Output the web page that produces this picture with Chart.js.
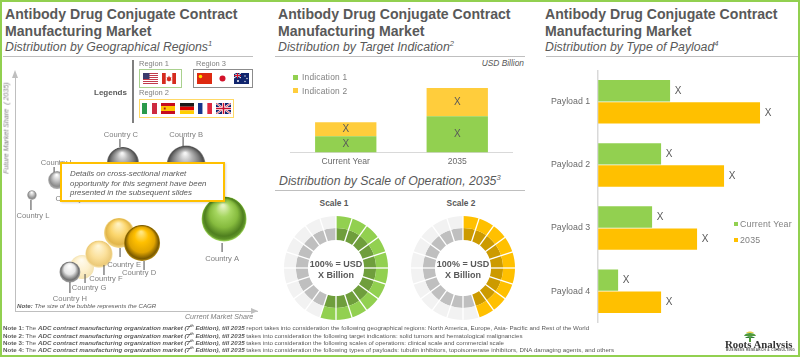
<!DOCTYPE html>
<html><head><meta charset="utf-8">
<script src="https://cdn.jsdelivr.net/npm/chart.js@4"></script>
<style>
html,body{margin:0;padding:0;background:#fff}
#stage{position:relative;width:800px;height:357px;overflow:hidden;background:#fff;font-family:"Liberation Sans",Arial,sans-serif;color:#595959}
#frame{position:absolute;inset:0;border:2px solid #92d050;box-sizing:border-box;z-index:20;pointer-events:none}
.t{position:absolute;white-space:nowrap;line-height:1;transform:translateY(-50%);z-index:6}
.title{font-weight:bold;font-size:14.1px}
.sub{font-style:italic;font-size:12.3px}
.sub sup{font-size:7.5px;line-height:0;vertical-align:5px}
.rule{position:absolute;height:1px;background:#bfbfbf;z-index:2}
canvas{position:absolute;display:block}
.box{position:absolute;box-sizing:border-box;z-index:3}
.flag{position:absolute;z-index:4}
#callout{position:absolute;left:60px;top:162px;width:165px;height:40px;box-sizing:border-box;border:2px solid #ffc000;background:#fff;z-index:8;box-shadow:1px 1px 2px rgba(0,0,0,.15);padding:5px 0 0 8px;font-style:italic;font-size:7.9px;line-height:9.6px;color:#595959;white-space:nowrap}
.note{font-size:6.2px;color:#595959}
.note b{font-weight:bold}
.sq{position:absolute;width:5px;height:5px;z-index:6}
</style></head><body>
<div id="stage">
<div id="frame"></div>

<canvas id="bubble" width="270" height="262" style="left:0;top:60px;width:270px;height:262px;z-index:1"></canvas>
<canvas id="stack" width="223" height="100" style="left:290px;top:72px;width:223px;height:100px;z-index:1"></canvas>
<canvas id="donut1" width="104" height="104" style="left:284px;top:216px;width:104px;height:104px;z-index:1"></canvas>
<canvas id="donut2" width="104" height="104" style="left:411px;top:216px;width:104px;height:104px;z-index:1"></canvas>
<canvas id="payload" width="257" height="279" style="left:543px;top:57px;width:257px;height:279px;z-index:1"></canvas>
<div id="callout">Details on cross-sectional market<br>opportunity for this segment have been<br>presented in the subsequent slides</div>
</div>

<script>
// ---------- data ----------
const mainTitle = ["Antibody Drug Conjugate Contract", "Manufacturing Market"];
const countryNames  = ["Country A","Country B","Country C","Country I","Country J","Country L","Country G","Country F","Country E","Country D","Country H"];
const marketShare   = [86.4,70.7,44.6,17.4,23.5,7,27.7,34.7,43,52.5,22.7];
const futureShare   = [38.7,61.3,62.2,55,53.2,48.7,18.5,23.9,32.8,28.6,16.4];
const cagrBubble    = [22.5,19.5,16,9,7,4.8,12,13.7,15,18,10.5];
const indicationCategories = ["Current Year","2035"];
const indication1 = [1.6,3.6];
const indication2 = [1.4,2.8];
const scale1Outer = [5,5,5,5,5,5,5,5,5,5,5,5,5,5,5,5,5,5,5,5];
const scale1Inner = [5,5,5,5,5,5,5,5,5,5,5,5,5,5,5,5,5,5,5,5];
const scale2Outer = [5,5,5,5,5,5,5,5,5,5,5,5,5,5,5,5,5,5,5,5];
const scale2Inner = [5,5,5,5,5,5,5,5,5,5,5,5,5,5,5,5,5,5,5,5];
const scale1Filled = 11;
const scale2Filled = 9;
const payloadCategories = ["Payload 1","Payload 2","Payload 3","Payload 4"];
const payloadCurrent = [72,63,54,20];
const payload2035    = [162,126,99,63];

// ---------- styling and placement (not data) ----------
const GREEN="#92d050", AMBER="#ffc000", YEL="#ffcd3c", TXT="#595959";
const sphereStops = {
  green:[[0,"#e4f3c0"],[.3,"#a5d65f"],[.6,"#86bb3e"],[.85,"#4f7f1f"],[.94,"#5f9428"],[1,"#a6dd62"]],
  grayD:[[0,"#f4f4f4"],[.3,"#b5b5b5"],[.65,"#7d7d7d"],[.9,"#4e4e4e"],[1,"#8d8d8d"]],
  grayL:[[0,"#ffffff"],[.4,"#c9c9c9"],[.8,"#8a8a8a"],[1,"#b5b5b5"]],
  white:[[0,"#ffffff"],[.5,"#e6e6e6"],[.85,"#6f6f6f"],[1,"#a5a5a5"]],
  gold:[[0,"#ffe680"],[.35,"#ffc000"],[.7,"#e0a400"],[.92,"#7a5a00"],[1,"#b48a10"]],
  pale1:[[0,"#fff2c2"],[.5,"#fbd56b"],[.85,"#e2b64a"],[1,"#f4d98a"]],
  pale2:[[0,"#fff6d6"],[.55,"#fbe09a"],[.9,"#ecca78"],[1,"#f7e6b4"]],
  pale3:[[0,"#fffbee"],[.6,"#fdf0cc"],[1,"#f3e2b0"]]
};
const bubbleStyle = ["green","grayD","grayD","grayL","grayL","grayL","pale3","pale2","pale1","gold","white"];
// leader line dx, y1, y2 and label dx, dy, all relative to the bubble centre
const bubbleLead = [
 [-2,24,33,-2,40],[-3,-19,-28,0,-30.5],[-3,-16,-24,-2,-28.5],[-3,-8,-13,-1,-17],[0,0,0,0,14.5],
 [-1,5,15,1,21],[3,7,16,7,21],[5,11,21,7,25],[1,15,24,5,32],[2,18,27,-3,30],[0,10,21,0,27]
];

const stage=document.getElementById("stage");
function T(x,y,html,css,cls){const d=document.createElement("div");d.className="t "+(cls||"");d.style.left=x+"px";d.style.top=y+"px";
  if(css)d.style.cssText+=";"+css;d.innerHTML=html;stage.appendChild(d);return d;}
function rule(x,y,w){const d=document.createElement("div");d.className="rule";d.style.cssText=`left:${x}px;top:${y}px;width:${w}px`;stage.appendChild(d);}
function frameBox(x,y,w,h,col,bw){const d=document.createElement("div");d.className="box";d.style.cssText=`left:${x}px;top:${y}px;width:${w}px;height:${h}px;border:${bw}px solid ${col}`;stage.appendChild(d);}

// headers
[[5,"Distribution by Geographical Regions","1"],[278,"Distribution by Target Indication","2"],[545,"Distribution by Type of Payload","4"]].forEach(h=>{
  T(h[0],14,mainTitle[0],"","title");T(h[0],31,mainTitle[1],"","title");
  T(h[0],47,h[1]+"<sup>"+h[2]+"</sup>","","sub");
});
rule(3,56,250);rule(275,56,250);rule(546,56,254);rule(275,190,250);
T(279,181,"Distribution by Scale of Operation, 2035<sup>3</sup>","","sub");

// legends block
const vl=document.createElement("div");vl.style.cssText="position:absolute;left:132px;top:60px;width:2px;height:63px;background:#7f7f7f;z-index:3";stage.appendChild(vl);
T(94,93,"Legends","font-size:8px;font-weight:bold");
T(139,64,"Region 1","font-size:7.5px;color:#808080");
T(196,64,"Region 3","font-size:7.5px;color:#808080");
T(139,93,"Region 2","font-size:7.5px;color:#808080");
frameBox(139,69,43,19,"#a9d18e",1.5);frameBox(193,69,60,19,"#8c8c8c",1.5);frameBox(139,99,95,19,"#ffd966",1.5);

function flag(x,y,w,svg){const s=document.createElementNS("http://www.w3.org/2000/svg","svg");s.setAttribute("class","flag");
  s.setAttribute("viewBox","0 0 30 22");s.setAttribute("preserveAspectRatio","none");s.style.cssText=`left:${x}px;top:${y}px;width:${w}px;height:11px`;s.innerHTML=svg;stage.appendChild(s);}
const R=(x,y,w,h,f)=>`<rect x="${x}" y="${y}" width="${w}" height="${h}" fill="${f}"/>`;
flag(143,73,15,R(0,0,30,22,"#fff")+[0,4,8,12,16,20].map(y=>R(0,y,30,2,"#c23b4a")).join("")+R(0,0,13,12,"#3c3b6e"));
flag(162,73,14,R(0,0,30,22,"#fff")+R(0,0,8,22,"#d52b1e")+R(22,0,8,22,"#d52b1e")+`<path d="M15 5l2 4 3-1-1 5 2 1-6 3-6-3 2-1-1-5 3 1z" fill="#d52b1e"/>`);
flag(197,73,15,R(0,0,30,22,"#de2910")+`<circle cx="7" cy="7" r="3.5" fill="#ffde00"/>`);
flag(215,73,15,R(0,0,30,22,"#fff")+`<circle cx="15" cy="11" r="6" fill="#d3122a"/>`);
flag(234,73,15,R(0,0,30,22,"#10256e")+`<path d="M0 0L14 10M14 0L0 10" stroke="#fff" stroke-width="2"/>`+R(6,0,2,11,"#d3122a")+R(0,4,14,2,"#d3122a")+`<circle cx="22" cy="6" r="1.3" fill="#fff"/><circle cx="26" cy="11" r="1.3" fill="#fff"/><circle cx="22" cy="17" r="1.3" fill="#fff"/><circle cx="8" cy="16" r="2" fill="#fff"/>`);
flag(142,103,15,R(0,0,10,22,"#2a9a4b")+R(10,0,10,22,"#fff")+R(20,0,10,22,"#cd2a3e"));
flag(161,103,14,R(0,0,30,22,"#c60b1e")+R(0,6,30,10,"#ffc400")+R(6,9,4,4,"#ad1519"));
flag(180,103,14,R(0,0,30,7.4,"#1a1a1a")+R(0,7.4,30,7.3,"#dd0000")+R(0,14.7,30,7.3,"#ffce00"));
flag(198,103,14,R(0,0,10,22,"#16348c")+R(10,0,10,22,"#fff")+R(20,0,10,22,"#e0283e"));
flag(216,103,15,R(0,0,30,22,"#10256e")+`<path d="M0 0L30 22M30 0L0 22" stroke="#fff" stroke-width="4"/><path d="M0 0L30 22M30 0L0 22" stroke="#c8102e" stroke-width="1.5"/>`+R(12,0,6,22,"#fff")+R(0,8,30,6,"#fff")+R(13.5,0,3,22,"#c8102e")+R(0,9.5,30,3,"#c8102e"));

// bubble panel texts
T(7,128,"Future Market Share&nbsp; ( 2035)","font-size:7.1px;font-style:italic;color:#7f7f7f;transform:translate(-50%,-50%) rotate(-90deg)");
T(185,318,"Current Market Share","font-size:7.1px;font-style:italic;color:#7f7f7f");
T(17,306,"<b>Note:</b> The size of the bubble represents the CAGR","font-size:6.2px;font-style:italic;color:#595959");

// stack panel texts
T(524,63,"USD Billion","font-size:8.4px;font-style:italic;transform:translate(-100%,-50%)");
[[GREEN,"Indication 1",77],[YEL,"Indication 2",90.5]].forEach(l=>{
  const s=document.createElement("div");s.className="sq";s.style.cssText=`left:293px;top:${l[2]-2.5}px;background:${l[0]}`;stage.appendChild(s);
  T(302,l[2],l[1],"font-size:8.4px;color:#7f7f7f;letter-spacing:.2px");
});
// donut texts
T(334,203,"Scale 1","font-size:8.4px;font-weight:bold;transform:translate(-50%,-50%)");
T(461,203,"Scale 2","font-size:8.4px;font-weight:bold;transform:translate(-50%,-50%)");
[[336],[463]].forEach(c=>{
  T(c[0],264,"100% = USD","font-size:9px;font-weight:bold;transform:translate(-50%,-50%)");
  T(c[0],274.5,"X Billion","font-size:9px;font-weight:bold;transform:translate(-50%,-50%)");
});
// payload legend
[[GREEN,"Current Year",224],[AMBER,"2035",240]].forEach(l=>{
  const s=document.createElement("div");s.className="sq";s.style.cssText=`left:734px;top:${l[2]-2}px;width:4px;height:4px;background:${l[0]}`;stage.appendChild(s);
  T(740,l[2],l[1],"font-size:8.8px;color:#7f7f7f;letter-spacing:.2px");
});
// notes
const noteHead="The <b><i>ADC contract manufacturing organization market (7<sup style='font-size:4px;line-height:0'>th</sup> Edition), till 2035</i></b> ";
[["Note 1:","report takes into consideration the following geographical regions: North America, Europe, Asia- Pacific and Rest of the World",328],
 ["Note 2:","takes into consideration the following target indications: solid tumors and hematological malignancies",335.5],
 ["Note 3:","takes into consideration the following scales of operations: clinical scale and commercial scale",343],
 ["Note 4:","takes into consideration the following types of payloads: tubulin inhibitors, topoisomerase inhibitors, DNA damaging agents, and others",350]
].forEach(n=>T(3,n[2],"<b>"+n[0]+"</b> "+noteHead+n[1],"","note"));

// logo
const logo=document.createElementNS("http://www.w3.org/2000/svg","svg");
logo.style.cssText="position:absolute;left:743px;top:331px;width:14px;height:11px;z-index:6";logo.setAttribute("viewBox","0 0 14 11");
logo.innerHTML=`<path d="M1 5C2 1 12 1 13 5Z" fill="#4f9a3c"/><path d="M3 2C5 0 9 0 11 2Z" fill="#e8d14a"/><path d="M2 7C4 4.5 10 4.5 12 7Z" fill="#2e7d32"/><rect x="6" y="6" width="2" height="5" fill="#4f9a3c"/>`;
stage.appendChild(logo);
T(725,343.5,"Roots Analysis","font-family:'Liberation Serif',serif;font-weight:bold;font-size:10.8px;color:#333");
T(726,350.5,"BUSINESS RESEARCH &amp; CONSULTING","font-size:3.2px;letter-spacing:.3px;color:#555;font-weight:bold");

// ---------- charts ----------
Chart.defaults.animation=false;
Chart.defaults.responsive=false;
Chart.defaults.layout.autoPadding=false;
Chart.defaults.font.family='"Liberation Sans",Arial,sans-serif';
Chart.defaults.plugins.legend.display=false;
Chart.defaults.plugins.tooltip.enabled=false;

function sphere(ctx){
  const c=ctx.chart; if(!c.chartArea||ctx.dataIndex===undefined) return "#999";
  const i=ctx.dataIndex, x=c.scales.x.getPixelForValue(marketShare[i]), y=c.scales.y.getPixelForValue(futureShare[i]), r=cagrBubble[i];
  const g=c.ctx.createRadialGradient(x-.05*r,y-.6*r,r*.05,x,y,r);
  sphereStops[bubbleStyle[i]].forEach(s=>g.addColorStop(s[0],s[1]));
  return g;
}
const bubbleDecor={id:"bubbleDecor",
 afterDraw(c){const x=c.ctx,a=c.chartArea;x.save();
  x.fillStyle="#bfbfbf";
  x.beginPath();x.moveTo(a.left-3,a.top+5);x.lineTo(a.left+3,a.top+5);x.lineTo(a.left,a.top-3);x.fill();
  x.beginPath();x.moveTo(a.right-6,a.bottom-3);x.lineTo(a.right-6,a.bottom+3);x.lineTo(a.right+1,a.bottom);x.fill();
  x.strokeStyle="#595959";x.lineWidth=1.1;x.font="7.6px 'Liberation Sans'";x.textAlign="center";x.textBaseline="middle";
  countryNames.forEach((n,i)=>{const px=c.scales.x.getPixelForValue(marketShare[i]),py=c.scales.y.getPixelForValue(futureShare[i]),L=bubbleLead[i];
    if(L[1]!==L[2]){x.beginPath();x.moveTo(px+L[0],py+L[1]);x.lineTo(px+L[0],py+L[2]);x.stroke();}
    x.fillStyle="#7f7f7f";x.fillText(n,px+L[3],py+L[4]);
  });
  x.restore();}
};
new Chart(document.getElementById("bubble"),{type:"bubble",
 data:{datasets:[{label:"Countries",data:countryNames.map((n,i)=>({x:marketShare[i],y:futureShare[i],r:cagrBubble[i]})),backgroundColor:sphere,borderWidth:0,hoverBorderWidth:0,clip:false}]},
 options:{layout:{padding:{left:15,top:13,right:13,bottom:11}},
  scales:{
   x:{min:0,max:100,grid:{display:false,drawTicks:false},ticks:{display:false},border:{color:"#bfbfbf",width:1}},
   y:{min:0,max:100,grid:{display:false,drawTicks:false},ticks:{display:false},border:{color:"#bfbfbf",width:1}}}},
 plugins:[bubbleDecor]});

const inBarX={id:"inBarX",afterDatasetsDraw(c){const x=c.ctx;x.save();x.fillStyle=TXT;x.font="10px 'Liberation Sans'";x.textAlign="center";x.textBaseline="middle";
  c.data.datasets.forEach((d,di)=>c.getDatasetMeta(di).data.forEach(b=>x.fillText("X",b.x,(b.y+b.base)/2)));x.restore();}};
new Chart(document.getElementById("stack"),{type:"bar",
 data:{labels:indicationCategories,datasets:[
  {label:"Indication 1",data:indication1,backgroundColor:GREEN},
  {label:"Indication 2",data:indication2,backgroundColor:YEL}]},
 options:{barPercentage:.55,categoryPercentage:1,layout:{padding:{bottom:1}},
  scales:{x:{stacked:true,grid:{display:false,drawTicks:false},border:{color:"#d9d9d9",width:1},ticks:{color:"#6a6a6a",font:{size:8.6,lineHeight:1},padding:5,maxRotation:0}},
          y:{stacked:true,display:false,min:0,max:8}}},
 plugins:[inBarX]});

const segmentGaps={id:"segmentGaps",afterDatasetsDraw(c){
  const x=c.ctx,outer=c.getDatasetMeta(0).data,inner=c.getDatasetMeta(1).data;
  x.save();x.strokeStyle="#fff";x.lineWidth=1.3;
  outer.forEach((a,i)=>{const ang=a.startAngle,r1=inner[i].innerRadius-1,r2=a.outerRadius+1;
    x.beginPath();x.moveTo(a.x+Math.cos(ang)*r1,a.y+Math.sin(ang)*r1);x.lineTo(a.x+Math.cos(ang)*r2,a.y+Math.sin(ang)*r2);x.stroke();});
  x.restore();}};
function donut(id,filled,on,onDark,outer,inner){
 new Chart(document.getElementById(id),{type:"doughnut",
  data:{labels:outer.map((v,i)=>String(i+1)),datasets:[
   {data:outer,backgroundColor:outer.map((v,i)=>i<filled?on:"#f2f2f2"),borderWidth:0},
   {data:inner,backgroundColor:inner.map((v,i)=>i<filled?onDark:"#bfbfbf"),borderWidth:0}]},
  options:{cutout:"54%"},plugins:[segmentGaps]});
}
donut("donut1",scale1Filled,GREEN,"#6f9e3c",scale1Outer,scale1Inner);
donut("donut2",scale2Filled,AMBER,"#cc9a00",scale2Outer,scale2Inner);

const endX={id:"endX",afterDatasetsDraw(c){const x=c.ctx;x.save();x.fillStyle=TXT;x.font="10px 'Liberation Sans'";x.textAlign="center";x.textBaseline="middle";
  c.data.datasets.forEach((d,di)=>c.getDatasetMeta(di).data.forEach(b=>x.fillText("X",b.x+8,b.y)));x.restore();}};
new Chart(document.getElementById("payload"),{type:"bar",
 data:{labels:payloadCategories,datasets:[
  {label:"Current Year",data:payloadCurrent,backgroundColor:GREEN},
  {label:"2035",data:payload2035,backgroundColor:AMBER}]},
 options:{indexAxis:"y",categoryPercentage:.7,barPercentage:.97,
  scales:{x:{display:false,min:0,max:202},
          y:{grid:{display:false,drawTicks:false},border:{color:"#d9d9d9",width:1.5},ticks:{color:"#6a6a6a",font:{size:8.8},padding:8}}}},
 plugins:[endX]});
</script>
</body></html>
